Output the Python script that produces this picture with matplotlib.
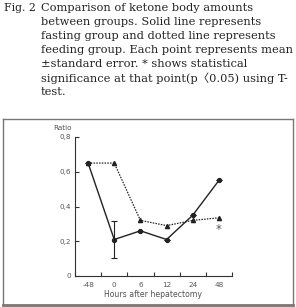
import matplotlib
matplotlib.use("Agg")
import matplotlib.pyplot as plt
from matplotlib.ticker import FixedLocator, NullFormatter

# data
hours = ["-48", "0", "6", "12", "24", "48"]
fasting = [0.65, 0.21, 0.26, 0.21, 0.35, 0.55]
fasting_err = [0, 0.105, 0, 0, 0, 0]
feeding = [0.65, 0.65, 0.32, 0.29, 0.32, 0.335]
star_at = 5
star_y = 0.27

caption = [
    "Comparison of ketone body amounts",
    "between groups. Solid line represents",
    "fasting group and dotted line represents",
    "feeding group. Each point represents mean",
    "\u00b1standard error. * shows statistical",
    "significance at that point(p\u30080.05) using T-",
    "test.",
]

W, H = 296, 307
fig = plt.figure(figsize=(W / 100, H / 100), dpi=100)

serif = ["DejaVu Serif", "Noto Sans CJK JP"]
fig.text(4 / W, 1 - 8 / H, "Fig. 2", family=serif, fontsize=7.8,
         va="center", ha="left", color="#222222")
for i, line in enumerate(caption):
    fig.text(41 / W, 1 - (8 + i * 14) / H, line, family=serif, fontsize=8.2,
             va="center", ha="left", color="#222222")

# frame box
box = fig.add_axes([3 / W, 1 - 305 / H, 290 / W, 186 / H])
box.set_xticks([])
box.set_yticks([])
box.patch.set_alpha(0)
for s in box.spines.values():
    s.set_color("#777777")
    s.set_linewidth(1.0)
box.spines["bottom"].set_linewidth(2)

ax = fig.add_axes([75 / W, 1 - 276 / H, 157 / W, 139 / H])
x = list(range(len(hours)))
ax.plot(x, feeding, color="#222222", lw=0.9, ls=(0, (1.2, 1.0)),
        marker="^", ms=3, mfc="#222222", mec="#222222")
ax.errorbar(x, fasting, yerr=fasting_err, color="#222222", lw=1.0,
            marker="o", ms=2.8, capsize=2.5, elinewidth=0.8, capthick=0.8)
ax.text(star_at, star_y, "*", ha="center", va="center", fontsize=8.5,
        color="#555555")

ax.set_xlim(-0.5, 5.5)
ax.set_ylim(0, 0.8)
ax.set_xticks(x)
ax.set_xticklabels(hours)
ax.xaxis.set_minor_locator(FixedLocator([i - 0.5 for i in range(7)]))
ax.xaxis.set_minor_formatter(NullFormatter())
ax.tick_params(axis="x", which="major", length=0, pad=4, labelsize=5.2,
               labelcolor="#555555")
ax.tick_params(axis="x", which="minor", length=3, direction="in",
               color="#333333", width=0.8)
ax.set_yticks([0, 0.2, 0.4, 0.6, 0.8])
ax.set_yticklabels(["0", "0,2", "0,4", "0,6", "0,8"])
ax.tick_params(axis="y", length=3, direction="in", pad=3, labelsize=5.2,
               labelcolor="#555555", color="#333333", width=0.8)
for side in ("top", "right"):
    ax.spines[side].set_visible(False)
for side in ("left", "bottom"):
    ax.spines[side].set_color("#333333")
    ax.spines[side].set_linewidth(0.8)
ax.patch.set_alpha(0)
ax.set_xlabel("Hours after hepatectomy", fontsize=5.6, color="#555555",
              labelpad=1.5)
fig.text(62 / W, 1 - 128 / H, "Ratio", fontsize=5.2, color="#555555",
         ha="center", va="center")

fig.savefig("out.png", dpi=100)
